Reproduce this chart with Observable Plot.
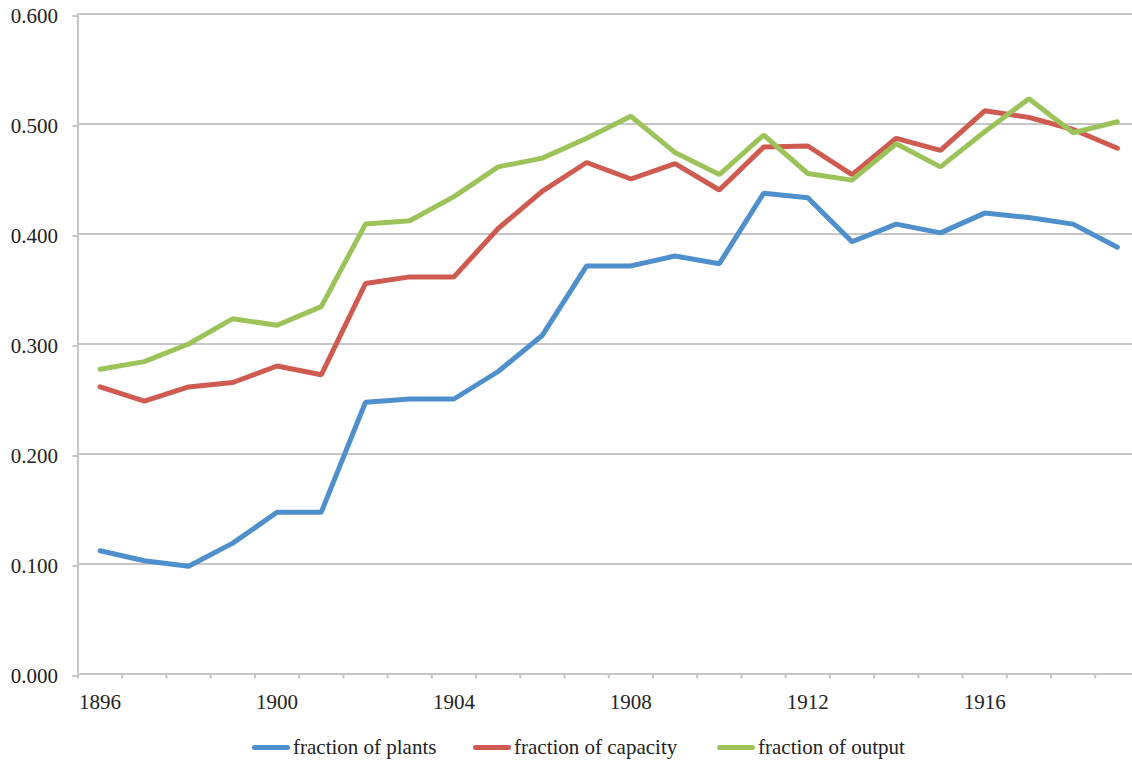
<!DOCTYPE html>
<html>
<head>
<meta charset="utf-8">
<script src="https://cdn.jsdelivr.net/npm/d3@7"></script>
<script src="https://cdn.jsdelivr.net/npm/@observablehq/plot@0.6"></script>
<style>
  html, body { margin: 0; padding: 0; background: #fff; overflow: hidden; }
  #wrap { position: relative; width: 1132px; height: 761px; }
  #chart svg { display: block; overflow: hidden; }
  #chart svg, #chart svg text, #chart svg g { font-family: "Liberation Serif", "Times New Roman", serif !important; font-size: 21px !important; }
  .leg { position: absolute; top: 735px; height: 24px; display: flex; align-items: center;
         font-family: "Liberation Serif", "Times New Roman", serif; font-size: 21px; color: #222; white-space: nowrap; }
  .sw { width: 38px; height: 5px; border-radius: 3px; margin-right: 3px; }
</style>
</head>
<body>
<div id="wrap">
  <div id="chart"></div>
  <div id="legend"></div>
</div>
<script>
const years = [1896,1897,1898,1899,1900,1901,1902,1903,1904,1905,1906,1907,1908,1909,1910,1911,1912,1913,1914,1915,1916,1917,1918,1919];
const plants   = [0.112,0.103,0.098,0.119,0.147,0.147,0.247,0.250,0.250,0.275,0.308,0.371,0.371,0.380,0.373,0.437,0.433,0.393,0.409,0.401,0.419,0.415,0.409,0.388];
const capacity = [0.261,0.248,0.261,0.265,0.280,0.272,0.355,0.361,0.361,0.405,0.439,0.465,0.450,0.464,0.440,0.479,0.480,0.454,0.487,0.476,0.512,0.506,0.495,0.478];
const output   = [0.277,0.284,0.300,0.323,0.317,0.334,0.409,0.412,0.434,0.461,0.469,0.487,0.507,0.474,0.454,0.490,0.455,0.449,0.482,0.461,0.493,0.523,0.492,0.502];
const seriesNames = ["fraction of plants", "fraction of capacity", "fraction of output"];
const seriesColors = ["#4f8fcb", "#cf5a50", "#9cc35a"];
const yTicks = [0, 0.1, 0.2, 0.3, 0.4, 0.5, 0.6];
const xLabelYears = [1896, 1900, 1904, 1908, 1912, 1916];

const seriesValues = [plants, capacity, output];
const data = [];
seriesNames.forEach((name, i) => {
  years.forEach((yr, j) => data.push({series: name, year: yr, value: seriesValues[i][j]}));
});
const boundaries = years.map(y => y - 0.5).concat([years[years.length - 1] + 0.5]);

const grey = "#c6c6c6";
const chart = Plot.plot({
  width: 1132,
  height: 720,
  marginTop: 13.5,
  marginBottom: 46.5,
  marginLeft: 77.5,
  marginRight: 0,
  style: {fontFamily: "Liberation Serif, serif", fontSize: "21px", color: "#222", background: "#fff"},
  x: {domain: [boundaries[0], boundaries[boundaries.length - 1]], range: [77.5, 1139]},
  y: {domain: [0, 0.6]},
  color: {domain: seriesNames, range: seriesColors},
  marks: [
    Plot.gridY(yTicks, {stroke: grey, strokeOpacity: 1, strokeWidth: 2}),
    Plot.axisY(yTicks, {tickSize: 5, tickPadding: 15, stroke: grey, strokeWidth: 2, fill: "#222",
      tickFormat: d => d.toFixed(3), label: null, dy: 2}),
    Plot.ruleX([boundaries[0]], {stroke: grey, strokeWidth: 2}),
    Plot.axisX(boundaries, {tickSize: 5, stroke: grey, strokeWidth: 2, tickFormat: () => "", label: null}),
    Plot.axisX(xLabelYears, {tickSize: 0, tickPadding: 20, tickFormat: d => String(d), label: null, fill: "#222"}),
    Plot.line(data, {x: "year", y: "value", z: "series", stroke: "series", strokeWidth: 5,
      strokeLinecap: "round", strokeLinejoin: "miter"})
  ]
});
document.getElementById("chart").appendChild(chart);

const legendLefts = [252, 473, 717];
const legend = document.getElementById("legend");
seriesNames.forEach((name, i) => {
  const item = document.createElement("div");
  item.className = "leg";
  item.style.left = legendLefts[i] + "px";
  const sw = document.createElement("div");
  sw.className = "sw";
  sw.style.background = seriesColors[i];
  const t = document.createElement("span");
  t.textContent = name;
  item.appendChild(sw);
  item.appendChild(t);
  legend.appendChild(item);
});
</script>
</body>
</html>
